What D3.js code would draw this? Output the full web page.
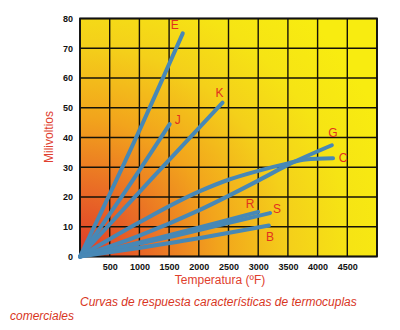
<!DOCTYPE html>
<html>
<head>
<meta charset="utf-8">
<script src="https://cdn.jsdelivr.net/npm/d3@7"></script>
<style>
html,body{margin:0;padding:0;background:#fff;}
svg{display:block;}
</style>
</head>
<body>
<svg id="chart" width="400" height="330"></svg>
<script>
// ---- data ----
const xTicks = [500, 1000, 1500, 2000, 2500, 3000, 3500, 4000, 4500];
const yTicks = [0, 10, 20, 30, 40, 50, 60, 70, 80];
const xGrid = [0, 500, 1000, 1500, 2000, 2500, 3000, 3500, 4000, 4500, 5000];
const curveNames = ["E", "J", "K", "G", "C", "R", "S", "B"];
const tempE = [0, 900, 1730];           const mvE = [0, 38, 75];
const tempJ = [0, 800, 1510];           const mvJ = [0, 23, 44.5];
const tempK = [0, 1200, 2400];          const mvK = [0, 26, 51.7];
const tempG = [0, 1000, 2000, 3000, 3500, 4240]; const mvG = [0, 7, 15.5, 25.5, 30.8, 37.4];
const tempC = [0, 1000, 2000, 2500, 3000, 3500, 3800, 4260]; const mvC = [0, 11.5, 21.8, 25.8, 28.8, 31.3, 32.6, 33];
const tempR = [0, 1500, 3000];          const mvR = [0, 7.2, 15];
const tempS = [0, 1600, 3200];          const mvS = [0, 7, 14.6];
const tempB = [0, 1600, 3180];          const mvB = [0, 4.8, 10.4];
const xTitle = "Temperatura (ºF)";
const yTitle = "Milivoltios";
const caption1 = "Curvas de respuesta características de termocuplas";
const caption2 = "comerciales";

// ---- layout ----
const svg = d3.select("#chart");
const M = {left: 80, top: 18.5, right: 377, bottom: 256.5};
const x = d3.scaleLinear().domain([0, 5000]).range([M.left, M.right]);
const y = d3.scaleLinear().domain([0, 80]).range([M.bottom, M.top]);

const series = {
  E: d3.zip(tempE, mvE), J: d3.zip(tempJ, mvJ), K: d3.zip(tempK, mvK),
  G: d3.zip(tempG, mvG), C: d3.zip(tempC, mvC), R: d3.zip(tempR, mvR),
  S: d3.zip(tempS, mvS), B: d3.zip(tempB, mvB)
};
// label offsets from each curve's last point (pixels)
const labelOff = {E:[-8,-8], J:[8,-4], K:[-3,-10], G:[1,-12], C:[10,0], R:[-8,-8], S:[7,-4], B:[1,11]};

const defs = svg.append("defs");
const grad = defs.append("radialGradient").attr("id", "bg")
  .attr("gradientUnits", "userSpaceOnUse")
  .attr("cx", M.left).attr("cy", M.bottom).attr("r", 330);
[[0, "#de3a2a"], [0.2, "#e96a26"], [0.42, "#f2a41c"], [0.64, "#f4d01a"], [0.82, "#f6e414"], [1, "#f8ec10"]]
  .forEach(([o, c]) => grad.append("stop").attr("offset", o).attr("stop-color", c));

svg.append("rect").attr("x", M.left).attr("y", M.top)
  .attr("width", M.right - M.left).attr("height", M.bottom - M.top)
  .attr("fill", "url(#bg)");

// grid
const g = svg.append("g");
g.selectAll("line.v").data(xGrid).join("line")
  .attr("x1", d => x(d)).attr("x2", d => x(d))
  .attr("y1", M.top).attr("y2", M.bottom)
  .attr("stroke", "#151208").attr("stroke-width", 1.4);
g.selectAll("line.h").data(yTicks).join("line")
  .attr("y1", d => y(d)).attr("y2", d => y(d))
  .attr("x1", M.left).attr("x2", M.right)
  .attr("stroke", "#151208").attr("stroke-width", 1.4);
svg.append("rect").attr("x", M.left).attr("y", M.top)
  .attr("width", M.right - M.left).attr("height", M.bottom - M.top)
  .attr("fill", "none").attr("stroke", "#111").attr("stroke-width", 1.8);

// axes tick labels via d3 axes
const xAxis = svg.append("g").attr("transform", `translate(0,${M.bottom})`)
  .call(d3.axisBottom(x).tickValues(xTicks).tickSize(0).tickPadding(7).tickFormat(d3.format("d")));
const yAxis = svg.append("g").attr("transform", `translate(${M.left},0)`)
  .call(d3.axisLeft(y).tickValues(yTicks).tickSize(0).tickPadding(7).tickFormat(d3.format("d")));
[xAxis, yAxis].forEach(a => {
  a.select(".domain").remove();
  a.selectAll("text").attr("font-family", "Liberation Sans, Arial, sans-serif")
    .attr("font-size", 9).attr("font-weight", "bold").attr("fill", "#111");
});

// curves
const line = d3.line().x(d => x(d[0])).y(d => y(d[1])).curve(d3.curveMonotoneX);
svg.append("g").selectAll("path").data(curveNames).join("path")
  .attr("d", k => line(series[k]))
  .attr("fill", "none").attr("stroke", "#4788b6").attr("stroke-width", 4)
  .attr("stroke-linecap", "round").attr("stroke-linejoin", "round");

// curve labels
svg.append("g").selectAll("text").data(curveNames).join("text")
  .attr("x", k => x(series[k][series[k].length - 1][0]) + labelOff[k][0])
  .attr("y", k => y(series[k][series[k].length - 1][1]) + labelOff[k][1])
  .attr("text-anchor", "middle").attr("dominant-baseline", "central")
  .attr("font-family", "Liberation Sans, Arial, sans-serif").attr("font-size", 12)
  .attr("fill", "#e2321e").text(k => k);

// titles
const font = "Liberation Sans, Arial, sans-serif";
svg.append("text").attr("x", 220).attr("y", 284).attr("text-anchor", "middle")
  .attr("font-family", font).attr("font-size", 12).attr("fill", "#e0402e").text(xTitle);
svg.append("text").attr("transform", "translate(53,137) rotate(-90)").attr("text-anchor", "middle")
  .attr("font-family", font).attr("font-size", 12).attr("fill", "#e0402e").text(yTitle);
svg.append("text").attr("x", 80).attr("y", 306)
  .attr("font-family", font).attr("font-size", 12).attr("font-style", "italic")
  .attr("fill", "#d8361e").text(caption1);
svg.append("text").attr("x", 10).attr("y", 320)
  .attr("font-family", font).attr("font-size", 12).attr("font-style", "italic")
  .attr("fill", "#d8361e").text(caption2);
</script>
</body>
</html>
